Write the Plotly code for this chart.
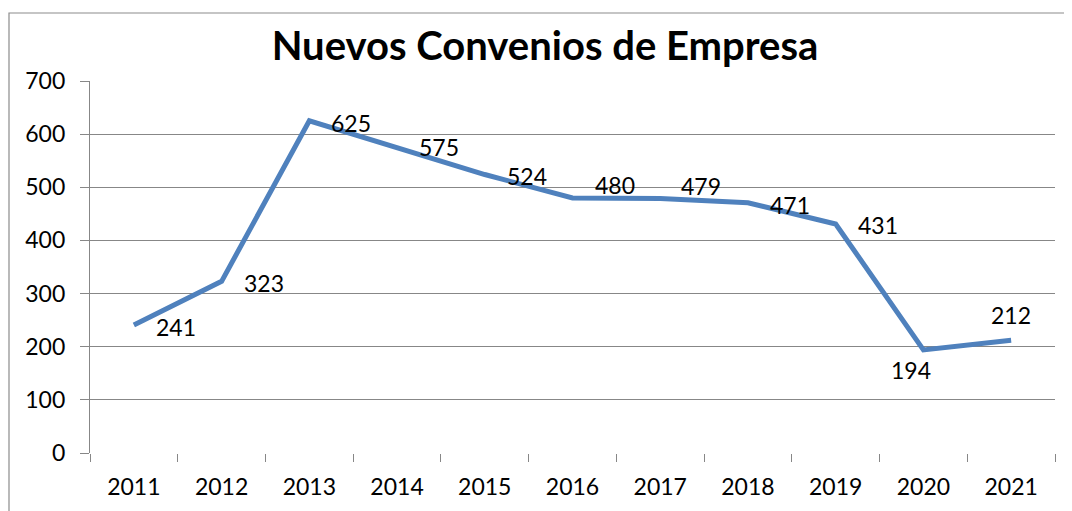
import plotly.graph_objects as go

years = ["2011", "2012", "2013", "2014", "2015", "2016", "2017", "2018", "2019", "2020", "2021"]
convenios = [241, 323, 625, 575, 524, 480, 479, 471, 431, 194, 212]
# label offsets (px) from each point, like the hand-moved labels in the original
label_dx = [42, 42, 42, 42, 42, 42, 41, 42, 42, -12, 0]
label_dy = [-2, -2, -2, 0, -1, 13, 12, -2, -1, -20, 25]

GRID = "#878787"
FONT = "Lato, Calibri, sans-serif"
OFF = 8  # page body margin that the browser adds around the plot div

fig = go.Figure()
fig.add_trace(go.Scatter(
    x=years, y=convenios, mode="lines",
    line=dict(color="#4F81BD", width=5),
    showlegend=False, hoverinfo="x+y",
))

# annotations on a category axis take the category index
for i, (v, dx, dy) in enumerate(zip(convenios, label_dx, label_dy)):
    fig.add_annotation(x=i, y=v, text=str(v), showarrow=False,
                       xshift=dx, yshift=dy,
                       font=dict(family=FONT, size=23, color="black"))

# outer chart border (runs off the right/bottom edge as in the picture)
fig.add_shape(type="rect", xref="paper", yref="paper",
              x0=(OFF + 1 - 90) / 965, x1=1.1, y0=-0.3, y1=(453 - 13) / 372,
              line=dict(color="#8c8c8c", width=1.2), fillcolor="rgba(0,0,0,0)")

fig.update_layout(
    width=1072, height=511,
    margin=dict(l=90 - OFF, r=1072 - 1055 + OFF, t=81 - OFF, b=511 - 453 + OFF,
                autoexpand=False),
    paper_bgcolor="white", plot_bgcolor="white",
    font=dict(family=FONT, size=23, color="black"),
    title=dict(text="<b>Nuevos Convenios de Empresa</b>",
               x=(545 - OFF) / 1072, xanchor="center", y=1 - (46 - OFF) / 511,
               yanchor="middle", yref="container",
               font=dict(family=FONT, size=40, color="black")),
    xaxis=dict(
        type="category", range=[-0.5, len(years) - 0.5],
        tickson="boundaries", ticks="outside", ticklen=8, tickangle=0,
        tickcolor=GRID, tickwidth=1.3, showgrid=False,
        showline=False, zeroline=False, fixedrange=True,
        ticklabelstandoff=18, tickfont=dict(size=23), automargin=False,
    ),
    yaxis=dict(
        range=[0, 700], dtick=100, ticks="outside", ticklen=9,
        tickcolor=GRID, tickwidth=1.3, showgrid=True, gridcolor=GRID,
        gridwidth=1.3, showline=True, linecolor=GRID, linewidth=1.3,
        zeroline=False, ticklabelstandoff=10, tickfont=dict(size=23),
        automargin=False,
    ),
)

fig.write_html("out.html")
